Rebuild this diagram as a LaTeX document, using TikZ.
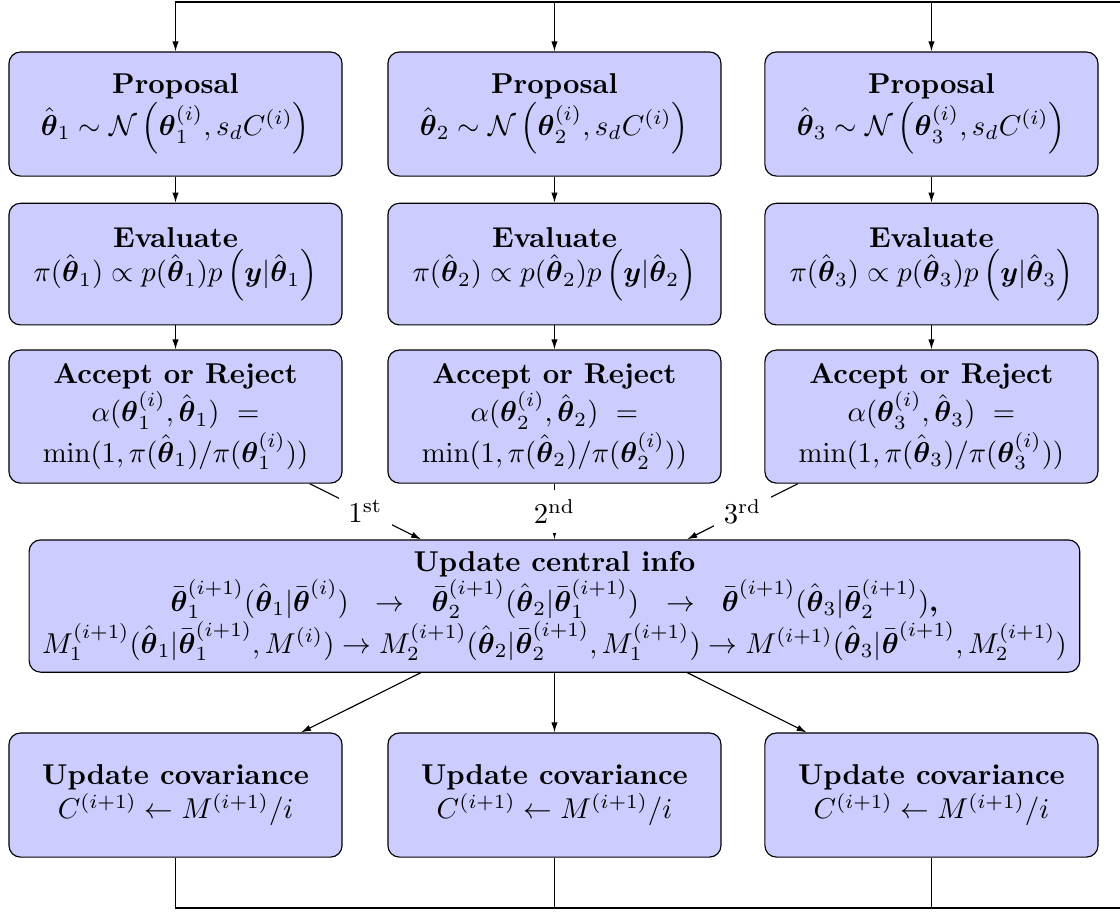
\documentclass[tikz,border=0pt]{standalone}
\usepackage{amsmath,amssymb}
\usepackage{tikz}
\usetikzlibrary{arrows.meta}
\newcommand{\thb}{\boldsymbol{\theta}}
\newcommand{\thhat}{\hat{\boldsymbol{\theta}}}
\newcommand{\thbar}{\bar{\boldsymbol{\theta}}}

\begin{document}
\begin{tikzpicture}[
  stage/.style={draw, rounded corners, fill=blue!20, align=center, minimum width=4.08cm, minimum height=1.52cm},
  flow/.style={-{Latex[length=3.5pt,width=2.2pt]}}
]
  \useasboundingbox (0,0) rectangle (13.72,11.16);
  \clip (0,0) rectangle (13.72,11.16);
  % Proposal row
  \node[stage] (prop1) at (2.150,9.763) {\textbf{Proposal}\\ $\thhat_1 \sim \mathcal{N}\left(\thb_1^{(i)}, s_d C^{(i)}\right)$};
  \node[stage] (prop2) at (6.792,9.763) {\textbf{Proposal}\\ $\thhat_2 \sim \mathcal{N}\left(\thb_2^{(i)}, s_d C^{(i)}\right)$};
  \node[stage] (prop3) at (11.410,9.763) {\textbf{Proposal}\\ $\thhat_3 \sim \mathcal{N}\left(\thb_3^{(i)}, s_d C^{(i)}\right)$};
  % Evaluate row
  \node[stage, minimum height=1.49cm] (eval1) at (2.150,7.925) {\textbf{Evaluate}\\ $\pi(\thhat_1) \propto p(\thhat_1)p\left(\boldsymbol{y}|\thhat_1\right)$};
  \node[stage, minimum height=1.49cm] (eval2) at (6.792,7.925) {\textbf{Evaluate}\\ $\pi(\thhat_2) \propto p(\thhat_2)p\left(\boldsymbol{y}|\thhat_2\right)$};
  \node[stage, minimum height=1.49cm] (eval3) at (11.410,7.925) {\textbf{Evaluate}\\ $\pi(\thhat_3) \propto p(\thhat_3)p\left(\boldsymbol{y}|\thhat_3\right)$};
  % Accept row
  \node[stage, minimum height=1.63cm] (acc1) at (2.150,6.057) {\textbf{Accept or Reject}\\ $\alpha(\thb_1^{(i)},\thhat_1)\ =$\\ $\min(1,\pi(\thhat_1)/\pi(\thb_1^{(i)}))$};
  \node[stage, minimum height=1.63cm] (acc2) at (6.792,6.057) {\textbf{Accept or Reject}\\ $\alpha(\thb_2^{(i)},\thhat_2)\ =$\\ $\min(1,\pi(\thhat_2)/\pi(\thb_2^{(i)}))$};
  \node[stage, minimum height=1.63cm] (acc3) at (11.410,6.057) {\textbf{Accept or Reject}\\ $\alpha(\thb_3^{(i)},\thhat_3)\ =$\\ $\min(1,\pi(\thhat_3)/\pi(\thb_3^{(i)}))$};
  % Central update
  \node[stage, minimum width=12.87cm, minimum height=1.62cm] (central) at (6.792,3.736) {\textbf{Update central info}\\
    $\thbar_1^{(i+1)}(\thhat_1|\thbar^{(i)})\ \ \rightarrow\ \ \thbar_2^{(i+1)}(\thhat_2|\thbar_1^{(i+1)})\ \ \rightarrow\ \ \thbar^{(i+1)}(\thhat_3|\thbar_2^{(i+1)})$\textbf{,}\\
    $M_1^{(i+1)}(\thhat_1|\thbar_1^{(i+1)},M^{(i)}) \rightarrow M_2^{(i+1)}(\thhat_2|\thbar_2^{(i+1)},M_1^{(i+1)}) \rightarrow M^{(i+1)}(\thhat_3|\thbar^{(i+1)},M_2^{(i+1)})$};
  % Covariance row
  \node[stage] (cov1) at (2.150,1.421) {\textbf{Update covariance}\\ $C^{(i+1)} \leftarrow M^{(i+1)}/i$};
  \node[stage] (cov2) at (6.792,1.421) {\textbf{Update covariance}\\ $C^{(i+1)} \leftarrow M^{(i+1)}/i$};
  \node[stage] (cov3) at (11.410,1.421) {\textbf{Update covariance}\\ $C^{(i+1)} \leftarrow M^{(i+1)}/i$};
  % Loop ends
  \coordinate (looptop) at (13.72,11.135);
  \coordinate (loopbot) at (13.72,0.037);
  % Connectors
  \draw[flow] (looptop) -| (prop1);
  \draw[flow] (looptop) -| (prop2);
  \draw[flow] (looptop) -| (prop3);
  \draw[flow] (prop1) -- (eval1);
  \draw[flow] (prop2) -- (eval2);
  \draw[flow] (prop3) -- (eval3);
  \draw[flow] (eval1) -- (acc1);
  \draw[flow] (eval2) -- (acc2);
  \draw[flow] (eval3) -- (acc3);
  \draw[flow] (acc1) -- node[fill=white] {$1^{\text{st}}$} (central);
  \draw[flow] (acc2) -- node[fill=white] {$2^{\text{nd}}$} (central);
  \draw[flow] (acc3) -- node[fill=white] {$3^{\text{rd}}$} (central);
  \draw[flow] (central) -- (cov1);
  \draw[flow] (central) -- (cov2);
  \draw[flow] (central) -- (cov3);
  \draw (cov1) |- (loopbot);
  \draw (cov2) |- (loopbot);
  \draw (cov3) |- (loopbot);
\end{tikzpicture}
\end{document}
